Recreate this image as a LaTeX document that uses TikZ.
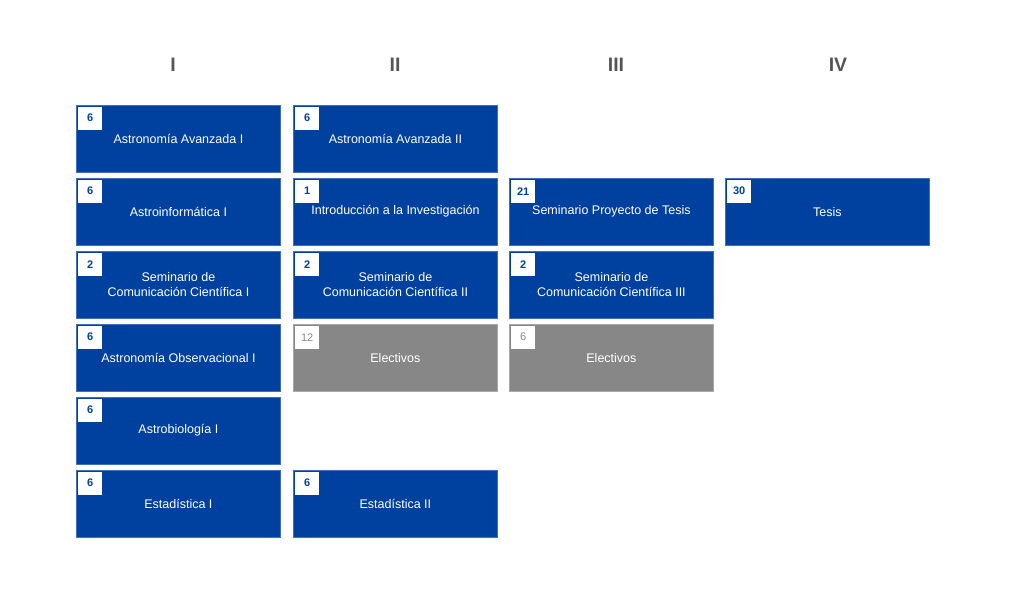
\documentclass[tikz,border=0pt]{standalone}
\usepackage{fontspec}
\setmainfont{Liberation Sans}
\definecolor{cblue}{HTML}{0041A0}
\definecolor{cblueedge}{HTML}{3F6FBF}
\definecolor{cgray}{HTML}{878787}
\definecolor{cgrayedge}{HTML}{A8A8A8}
\definecolor{chead}{HTML}{555555}
\begin{document}
\begin{tikzpicture}[x=1pt,y=-1pt,
  course/.style={draw=cblueedge,fill=cblue,line width=0.8pt,minimum width=204pt,minimum height=67.5pt,inner sep=0pt,
    text=white,font=\fontsize{12.5}{14.5}\selectfont,align=center,anchor=north west},
  elect/.style={course,draw=cgrayedge,fill=cgray},
  cred/.style={fill=white,minimum width=24pt,minimum height=23pt,inner sep=0pt,anchor=north west,
    text=cblue,font=\bfseries\fontsize{11}{13}\selectfont},
  credg/.style={cred,text=cgray,font=\fontsize{11}{13}\selectfont},
  head/.style={text=chead,font=\bfseries\fontsize{19.5}{22}\selectfont}]
\useasboundingbox (0,0) rectangle (1024,589);
\node[head] (h1) at (173,65) {I};
\node[head] (h2) at (395,65) {II};
\node[head] (h3) at (616,65) {III};
\node[head] (h4) at (838,65) {IV};
% column I
\node[course] (a1) at (76,104.5) {Astronomía Avanzada I};
\node[cred] (n_a1) at ([shift={(2,2)}]a1.north west) {6};
\node[course] (a2) at (76,177.5) {Astroinformática I};
\node[cred] (n_a2) at ([shift={(2,2)}]a2.north west) {6};
\node[course] (a3) at (76,250.5) {Seminario de\\Comunicación Científica I};
\node[cred] (n_a3) at ([shift={(2,2)}]a3.north west) {2};
\node[course] (a4) at (76,323.5) {Astronomía Observacional I};
\node[cred] (n_a4) at ([shift={(2,2)}]a4.north west) {6};
\node[course] (a5) at (76,396.5) {Astrobiología I};
\node[cred] (n_a5) at ([shift={(2,2)}]a5.north west) {6};
\node[course] (a6) at (76,469.5) {Estadística I};
\node[cred] (n_a6) at ([shift={(2,2)}]a6.north west) {6};
% column II
\node[course] (b1) at (293,104.5) {Astronomía Avanzada II};
\node[cred] (n_b1) at ([shift={(2,2)}]b1.north west) {6};
\node[course] (b2) at (293,177.5) {Introducción a la Investigación};
\node[cred] (n_b2) at ([shift={(2,2)}]b2.north west) {1};
\node[course] (b3) at (293,250.5) {Seminario de\\Comunicación Científica II};
\node[cred] (n_b3) at ([shift={(2,2)}]b3.north west) {2};
\node[elect] (b4) at (293,323.5) {Electivos};
\node[credg] (n_b4) at ([shift={(2,2)}]b4.north west) {12};
\node[course] (b6) at (293,469.5) {Estadística II};
\node[cred] (n_b6) at ([shift={(2,2)}]b6.north west) {6};
% column III
\node[course] (c2) at (509,177.5) {Seminario Proyecto de Tesis};
\node[cred] (n_c2) at ([shift={(2,2)}]c2.north west) {21};
\node[course] (c3) at (509,250.5) {Seminario de\\Comunicación Científica III};
\node[cred] (n_c3) at ([shift={(2,2)}]c3.north west) {2};
\node[elect] (c4) at (509,323.5) {Electivos};
\node[credg] (n_c4) at ([shift={(2,2)}]c4.north west) {6};
% column IV
\node[course] (d2) at (725,177.5) {Tesis};
\node[cred] (n_d2) at ([shift={(2,2)}]d2.north west) {30};
\end{tikzpicture}
\end{document}
